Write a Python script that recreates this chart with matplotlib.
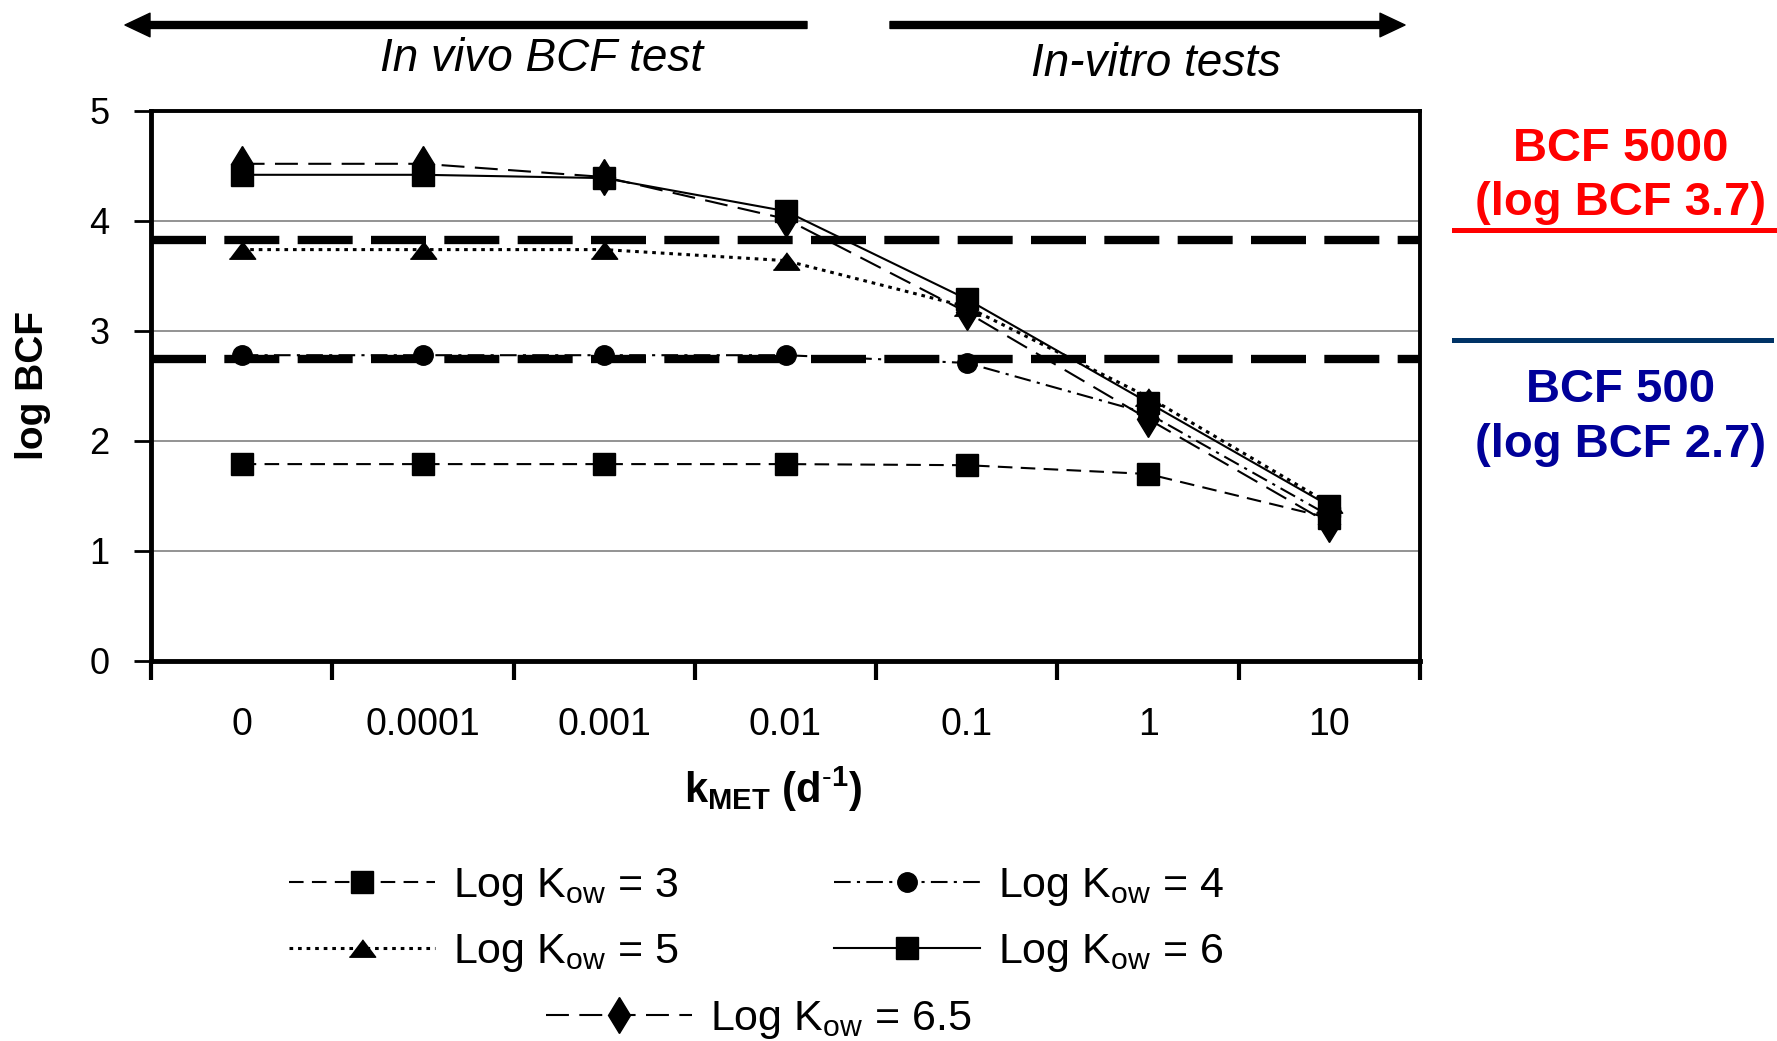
import numpy as np
import matplotlib.pyplot as plt
from matplotlib.lines import Line2D

plt.rcParams["font.family"] = ["Liberation Sans", "DejaVu Sans"]
plt.rcParams["mathtext.fontset"] = "custom"
plt.rcParams["mathtext.rm"] = "Liberation Sans"
plt.rcParams["mathtext.it"] = "Liberation Sans:italic"
plt.rcParams["mathtext.bf"] = "Liberation Sans:bold"

# data
kmet_labels = ["0", "0.0001", "0.001", "0.01", "0.1", "1", "10"]
log_bcf_kow3 = [1.79, 1.79, 1.79, 1.79, 1.78, 1.70, 1.30]
log_bcf_kow4 = [2.78, 2.78, 2.78, 2.78, 2.71, 2.25, 1.32]
log_bcf_kow5 = [3.74, 3.74, 3.74, 3.64, 3.22, 2.40, 1.43]
log_bcf_kow6 = [4.42, 4.42, 4.39, 4.09, 3.29, 2.35, 1.41]
log_bcf_kow65 = [4.52, 4.52, 4.40, 4.02, 3.17, 2.20, 1.25]
series_labels = ["3", "4", "5", "6", "6.5"]
thresholds = [3.83, 2.75]

W, H = 1777, 1041
fig = plt.figure(figsize=(W / 100, H / 100), dpi=100)
ax = fig.add_axes([151 / W, 1 - 661 / H, (1420 - 151) / W, 550 / H])

x = np.arange(len(kmet_labels))
tri = [(-1, -0.66), (1, -0.66), (0, 0.66)]

styles = [
    dict(ls=(0, (7, 4)), marker="s", ms=16),
    dict(ls=(0, (8, 3, 1.5, 3)), marker="o", ms=14),
    dict(ls=(0, (1.2, 1.6)), marker=tri, ms=19, lw=2.2),
    dict(ls="-", marker="s", ms=16),
    dict(ls=(0, (11, 5)), marker="d", ms=18),
]
series = [log_bcf_kow3, log_bcf_kow4, log_bcf_kow5, log_bcf_kow6, log_bcf_kow65]

for thr in thresholds:
    ax.axhline(thr, color="k", lw=6, ls=(0, (6.6, 2.2)), zorder=2)

handles = [None] * 5
for i in [0, 1, 2, 4, 3]:
    st = dict(lw=1.5)
    st.update(styles[i])
    (ln,) = ax.plot(x, series[i], color="k", mfc="k", mec="k",
                    label=r"Log K$_{\mathrm{ow}}$ = " + series_labels[i],
                    zorder=3, **st)
    handles[i] = ln

ax.set_xlim(-0.5, 6.5)
ax.set_ylim(0, 5)
ax.set_yticks(range(6))
ax.tick_params(axis="y", labelsize=26, length=12, width=2, pad=18)
ax.set_xticks(np.arange(-0.5, 7, 1))
ax.set_xticklabels([])
ax.set_xticks(x, minor=True)
ax.set_xticklabels(kmet_labels, minor=True)
ax.tick_params(axis="x", which="major", length=14, width=3)
ax.tick_params(axis="x", which="minor", length=0, labelsize=27, pad=33)
ax.grid(axis="y", color="#808080", lw=1.2, zorder=1)
for s in ["left", "bottom"]:
    ax.spines[s].set_linewidth(3.5)
for s in ["top", "right"]:
    ax.spines[s].set_linewidth(2.8)

ax.set_ylabel("log BCF", fontsize=28, fontweight="bold")
ax.yaxis.set_label_coords(-0.079, 0.5)
ax.set_xlabel(r"$\mathbf{k_{MET}}$ $\mathbf{(d^{\text{-}1})}$", fontsize=30)
ax.xaxis.set_label_coords(0.49, -0.188)

# direction arrows and captions above the plot
arrow = dict(width=5, headwidth=17, headlength=18, facecolor="k", edgecolor="k", shrink=0)
ax.annotate("", xy=(125 / W, 1 - 25 / H), xytext=(807 / W, 1 - 25 / H),
            xycoords="figure fraction", textcoords="figure fraction", arrowprops=arrow)
ax.annotate("", xy=(1405 / W, 1 - 25 / H), xytext=(890 / W, 1 - 25 / H),
            xycoords="figure fraction", textcoords="figure fraction", arrowprops=arrow)
fig.text(542 / W, 0.932, "In vivo BCF test", fontsize=33, style="italic", ha="center", va="baseline")
fig.text(1156 / W, 0.927, "In-vitro tests", fontsize=33, style="italic", ha="center", va="baseline")

# threshold captions on the right
fig.text(1621 / W, 0.845, "BCF 5000", color="red", fontsize=34, fontweight="bold", ha="center", va="baseline")
fig.text(1621 / W, 0.793, "(log BCF 3.7)", color="red", fontsize=34, fontweight="bold", ha="center", va="baseline")
fig.add_artist(Line2D([1454 / W, 1.0], [1 - 230 / H] * 2, color="red", lw=3.6))
fig.add_artist(Line2D([1454 / W, 1771 / W], [1 - 340 / H] * 2, color="#003366", lw=3.6))
fig.text(1621 / W, 0.614, "BCF 500", color="#000099", fontsize=34, fontweight="bold", ha="center", va="baseline")
fig.text(1621 / W, 0.561, "(log BCF 2.7)", color="#000099", fontsize=34, fontweight="bold", ha="center", va="baseline")

# legend: rows (3, 4), (5, 6), then 6.5 centred
leg_kw = dict(frameon=False, fontsize=31, handlelength=3.4, handletextpad=0.4,
              borderpad=0, borderaxespad=0, loc="upper left")
first = [handles[k] for k in (0, 2, 1, 3)]
fig.legend(first, [h.get_label() for h in first], ncol=2,
           columnspacing=3.62, labelspacing=0.55,
           bbox_to_anchor=(289 / W, 1 - 866 / H), **leg_kw)
fig.legend(handles[4:], [handles[4].get_label()],
           bbox_to_anchor=(546 / W, 1 - 999 / H), **leg_kw)

fig.savefig("out.png", dpi=100)
